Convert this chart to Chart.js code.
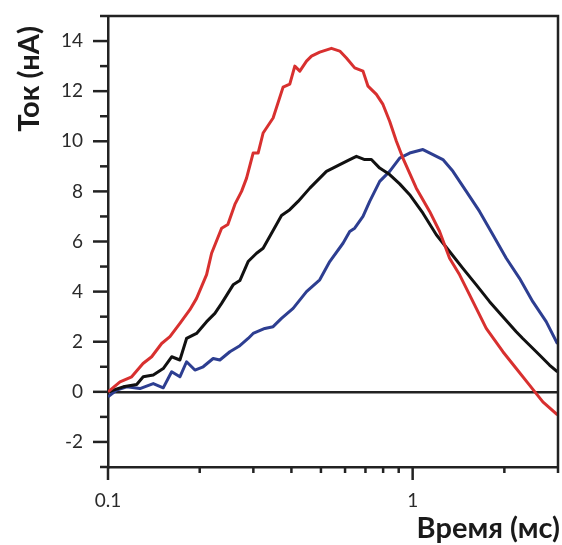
<!DOCTYPE html>
<html>
<head>
<meta charset="utf-8">
<script src="https://cdn.jsdelivr.net/npm/chart.js@4/dist/chart.umd.min.js"></script>
<style>
  html, body { margin: 0; padding: 0; background: #fff; }
  #wrap { width: 562px; height: 545px; }
</style>
</head>
<body>
<div id="wrap"><canvas id="currentChart"></canvas></div>
<script>
// Ток во времени, три кривые
const redT = [0.1, 0.1095, 0.1196, 0.1303, 0.1391, 0.15, 0.1597, 0.1722, 0.1857, 0.1953, 0.2107, 0.2188, 0.236, 0.2474, 0.2609, 0.2744, 0.285, 0.2995, 0.311, 0.323, 0.3483, 0.3756, 0.3951, 0.4104, 0.4262, 0.4483, 0.4655, 0.4955, 0.5413, 0.5765, 0.6062, 0.6453, 0.6871, 0.7136, 0.7603, 0.7991, 0.8405, 0.8843, 0.929, 1.028, 1.137, 1.226, 1.322, 1.426, 1.538, 1.658, 1.744, 1.978, 2.188, 2.419, 2.675, 2.988];
const redI = [0, 0.4, 0.6, 1.13, 1.4, 1.93, 2.2, 2.73, 3.28, 3.73, 4.68, 5.53, 6.53, 6.68, 7.48, 8.0, 8.53, 9.53, 9.53, 10.33, 10.93, 12.16, 12.28, 13.0, 12.8, 13.2, 13.4, 13.56, 13.71, 13.6, 13.32, 12.93, 12.8, 12.2, 11.87, 11.47, 10.8, 10.0, 9.33, 8.13, 7.2, 6.4, 5.33, 4.67, 3.87, 3.07, 2.53, 1.6, 0.93, 0.27, -0.4, -0.92];

const blackT = [0.1, 0.1122, 0.1242, 0.1305, 0.1408, 0.1518, 0.1618, 0.1722, 0.1811, 0.1953, 0.2107, 0.2243, 0.236, 0.2575, 0.2709, 0.2884, 0.3073, 0.323, 0.3483, 0.3711, 0.3951, 0.4207, 0.4597, 0.5212, 0.5765, 0.6215, 0.6537, 0.696, 0.7321, 0.7796, 0.8405, 0.9066, 0.9777, 1.081, 1.196, 1.322, 1.462, 1.618, 1.789, 1.978, 2.188, 2.299, 2.609, 2.813, 2.988];
const blackI = [0, 0.2, 0.29, 0.6, 0.67, 0.93, 1.4, 1.27, 2.13, 2.33, 2.8, 3.13, 3.53, 4.27, 4.44, 5.2, 5.53, 5.73, 6.44, 7.04, 7.27, 7.6, 8.13, 8.8, 9.07, 9.27, 9.4, 9.27, 9.27, 8.93, 8.67, 8.3, 7.87, 7.13, 6.27, 5.6, 4.93, 4.27, 3.6, 3.0, 2.4, 2.13, 1.47, 1.07, 0.8];

const blueT = [0.1, 0.1068, 0.1152, 0.1273, 0.1408, 0.1518, 0.1618, 0.1722, 0.1811, 0.1929, 0.2053, 0.2214, 0.2329, 0.2512, 0.2709, 0.2884, 0.2995, 0.3272, 0.3483, 0.3711, 0.4052, 0.4483, 0.4955, 0.5344, 0.5908, 0.6215, 0.6453, 0.6871, 0.7228, 0.7796, 0.8405, 0.9066, 0.9777, 1.081, 1.166, 1.257, 1.356, 1.5, 1.658, 1.834, 2.029, 2.243, 2.48, 2.744, 2.988];
const blueI = [-0.2, 0.07, 0.2, 0.13, 0.33, 0.16, 0.8, 0.6, 1.2, 0.87, 1.0, 1.33, 1.27, 1.6, 1.84, 2.13, 2.33, 2.53, 2.6, 2.93, 3.33, 4.0, 4.47, 5.2, 5.93, 6.4, 6.53, 7.0, 7.6, 8.4, 8.8, 9.33, 9.53, 9.67, 9.47, 9.27, 8.8, 8.0, 7.2, 6.27, 5.33, 4.53, 3.6, 2.8, 1.92];

// деления осей
const xTicks = [0.1, 0.2, 0.3, 0.4, 0.5, 0.6, 0.7, 0.8, 0.9, 1, 2, 3];
const xTickLabels = ['0.1', '', '', '', '', '', '', '', '', '1', '', ''];
const yTicks = [-3, -2, -1, 0, 1, 2, 3, 4, 5, 6, 7, 8, 9, 10, 11, 12, 13, 14, 15];
const yTickLabels = ['', '-2', '', '0', '', '2', '', '4', '', '6', '', '8', '', '10', '', '12', '', '14', ''];

const xTitle = 'Время (мс)';
const yTitle = 'Ток (нА)';

function toPoints(ts, vals) {
    return ts.map((t, i) => ({ x: t, y: vals[i] }));
}

// рамка, засечки и подписи осей
const framePlugin = {
    id: 'framePlugin',
    afterDraw(chart) {
        const { ctx, chartArea: a, scales } = chart;
        const x = scales.x, y = scales.y;
        ctx.save();
        ctx.strokeStyle = '#222';
        ctx.lineWidth = 2.5;
        ctx.lineCap = 'butt';

        // верх и правая сторона
        ctx.beginPath();
        ctx.moveTo(a.left, a.top);
        ctx.lineTo(a.right, a.top);
        ctx.lineTo(a.right, a.bottom);
        ctx.stroke();

        // засечки по Y
        y.ticks.forEach((t, i) => {
            const py = y.getPixelForValue(t.value);
            const len = yTickLabels[i] ? 15 : 8;
            ctx.beginPath();
            ctx.moveTo(a.left - len, py);
            ctx.lineTo(a.left, py);
            ctx.stroke();
        });
        // засечки по X
        x.ticks.forEach((t, i) => {
            const px = x.getPixelForValue(t.value);
            const len = xTickLabels[i] ? 13 : 6;
            ctx.beginPath();
            ctx.moveTo(px, a.bottom);
            ctx.lineTo(px, a.bottom + len);
            ctx.stroke();
        });

        ctx.fillStyle = '#1a1a1a';
        ctx.font = 'bold 29px Lato';
        ctx.textAlign = 'right';
        ctx.textBaseline = 'alphabetic';
        ctx.fillText(xTitle, 560, 538);

        ctx.font = 'bold 29px Lato';
        ctx.translate(39, 79);
        ctx.rotate(-Math.PI / 2);
        ctx.textAlign = 'center';
        ctx.fillText(yTitle, 0, 0);
        ctx.restore();
    }
};

const ctx = document.getElementById('currentChart');
new Chart(ctx, {
    type: 'line',
    data: {
        datasets: [
            { label: 'red', data: toPoints(redT, redI), borderColor: '#d8302f', borderWidth: 3 },
            { label: 'black', data: toPoints(blackT, blackI), borderColor: '#111111', borderWidth: 3 },
            { label: 'blue', data: toPoints(blueT, blueI), borderColor: '#2d3e91', borderWidth: 3 }
        ]
    },
    options: {
        responsive: true,
        maintainAspectRatio: false,
        animation: false,
        elements: { point: { radius: 0 }, line: { tension: 0, borderJoinStyle: 'round' } },
        layout: { padding: { left: 0, top: 16, right: 4, bottom: 0 } },
        plugins: { legend: { display: false }, tooltip: { enabled: false } },
        scales: {
            x: {
                type: 'logarithmic',
                min: 0.1,
                max: 3,
                afterBuildTicks: s => { s.ticks = xTicks.map(v => ({ value: v })); },
                afterFit: s => { s.height = 78; s.paddingLeft = 0; s.paddingRight = 0; },
                ticks: {
                    autoSkip: false,
                    maxRotation: 0,
                    padding: 22,
                    color: '#2a2a2a',
                    font: { family: 'Lato', size: 19 },
                    callback: (v, i) => xTickLabels[i]
                },
                grid: { display: false, drawTicks: false },
                border: { display: true, color: '#222', width: 2.5 }
            },
            y: {
                type: 'linear',
                min: -3,
                max: 15,
                afterBuildTicks: s => { s.ticks = yTicks.map(v => ({ value: v })); },
                afterFit: s => { s.width = 108; s.paddingTop = 0; s.paddingBottom = 0; },
                ticks: {
                    autoSkip: false,
                    padding: 25,
                    color: '#2a2a2a',
                    font: { family: 'Lato', size: 19 },
                    callback: (v, i) => yTickLabels[i]
                },
                grid: {
                    drawTicks: false,
                    color: c => (c.tick && c.tick.value === 0 ? '#222' : 'rgba(0,0,0,0)'),
                    lineWidth: 2.5
                },
                border: { display: true, color: '#222', width: 2.5 }
            }
        }
    },
    plugins: [framePlugin]
});
</script>
</body>
</html>
